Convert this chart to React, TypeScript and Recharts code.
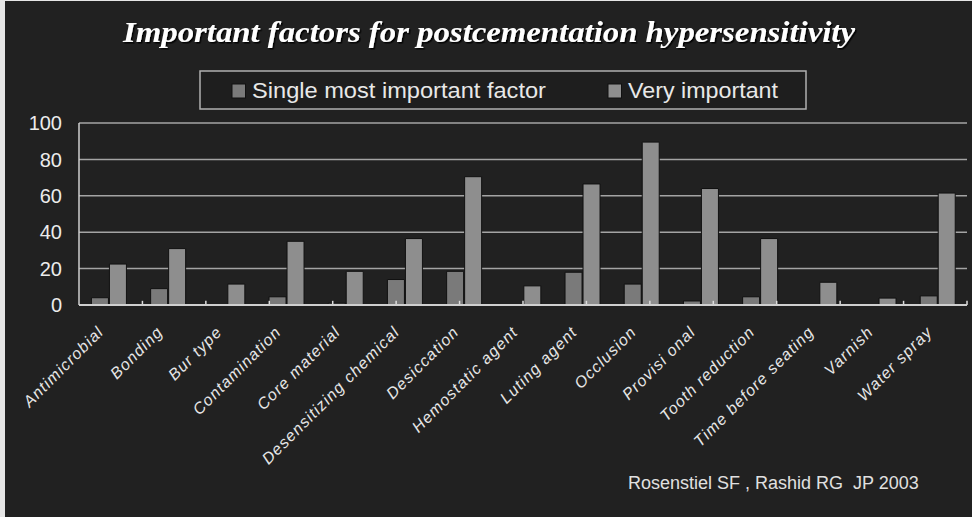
import React from 'react';
import { BarChart, Bar, XAxis, YAxis, CartesianGrid, ReferenceLine } from 'recharts';

const categories = [
  'Antimicrobial',
  'Bonding',
  'Bur type',
  'Contamination',
  'Core material',
  'Desensitizing chemical',
  'Desiccation',
  'Hemostatic agent',
  'Luting agent',
  'Occlusion',
  'Provisi onal',
  'Tooth reduction',
  'Time before seating',
  'Varnish',
  'Water spray',
];

const singleMost = [4, 9, 0, 4.5, 1, 14, 18.5, 0, 18, 11.5, 2.2, 4.5, 0, 0, 5];
const veryImportant = [22.5, 31, 11.5, 35, 18.5, 36.5, 70.5, 10.5, 66.5, 89.5, 64, 36.5, 12.5, 3.8, 61.5];

const yTicks = [0, 20, 40, 60, 80, 100];
const boundaryTicks = [1, 2, 3, 4, 5, 6, 7, 8, 9, 10, 11, 12, 13, 14];

const titleText = 'Important factors for postcementation hypersensitivity';
const legendLabels = ['Single most important factor', 'Very important'];
const footnote = 'Rosenstiel SF , Rashid RG  JP 2003';

const data = categories.map((name, i) => ({
  name,
  single: singleMost[i],
  very: veryImportant[i],
}));

const DARK = '#7a7a7a';
const LIGHT = '#8e8e8e';

const XTick = (props: any) => {
  const { x, y, payload } = props;
  return (
    <g transform={`translate(${x - 4},${y + 28})`}>
      <text
        textAnchor="end"
        transform="rotate(-45)"
        fill="#e6e6e6"
        fontSize={16}
        fontStyle="italic"
        fontFamily="'Liberation Sans', Arial, sans-serif"
        letterSpacing={1.1}
      >
        {payload.value}
      </text>
    </g>
  );
};

export default function App() {
  return (
    <div
      style={{
        position: 'absolute',
        left: 0,
        top: 0,
        width: 972,
        height: 517,
        background: '#212121',
        overflow: 'hidden',
      }}
    >
      <div style={{ position: 'absolute', left: 0, top: 0, width: 5, height: 517, background: '#e6e6e6' }} />
      <div style={{ position: 'absolute', left: 0, top: 0, width: 972, height: 1, background: '#e6e6e6' }} />
      <div style={{ position: 'absolute', left: 0, top: 0 }}>
        <BarChart
          width={972}
          height={517}
          data={data}
          margin={{ top: 123, right: 5, bottom: 0, left: 19 }}
          barCategoryGap="21%"
          barGap={1}
        >
          <CartesianGrid vertical={false} stroke="#a4a4a4" strokeWidth={1.5} />
          <XAxis
            dataKey="name"
            height={212}
            interval={0}
            tickLine={false}
            tickSize={0}
            tickMargin={0}
            axisLine={{ stroke: '#cfcfcf', strokeWidth: 2 }}
            tick={<XTick />}
          />
          <XAxis xAxisId="t" type="number" domain={[0, 15]} hide allowDataOverflow />
          <YAxis
            width={60}
            domain={[0, 100]}
            ticks={yTicks}
            tickLine={false}
            tickSize={0}
            tickMargin={17}
            axisLine={{ stroke: '#cfcfcf', strokeWidth: 1.5 }}
            tick={{ fill: '#ececec', fontSize: 20, fontFamily: "'Liberation Sans', Arial, sans-serif" }}
          />
          <YAxis
            yAxisId="r"
            orientation="right"
            width={0}
            domain={[0, 100]}
            tick={false}
            tickLine={false}
            axisLine={{ stroke: '#a4a4a4', strokeWidth: 1.5 }}
          />
          <Bar dataKey="single" name={legendLabels[0]} fill={DARK} stroke="#111111" strokeWidth={1} isAnimationActive={false} />
          <Bar dataKey="very" name={legendLabels[1]} fill={LIGHT} stroke="#111111" strokeWidth={1} isAnimationActive={false} />
          {boundaryTicks.map((b) => (
            <ReferenceLine
              key={b}
              xAxisId="t"
              segment={[
                { x: b, y: 0 },
                { x: b, y: 2.3 },
              ]}
              stroke="#dddddd"
              strokeWidth={1.5}
              ifOverflow="visible"
            />
          ))}
        </BarChart>
      </div>
      <svg
        width={972}
        height={517}
        style={{ position: 'absolute', left: 0, top: 0, pointerEvents: 'none' }}
      >
        <defs>
          <filter id="ts" x="-5%" y="-20%" width="110%" height="140%">
            <feDropShadow dx={1.5} dy={1.5} stdDeviation={0.6} floodColor="#000000" floodOpacity={0.9} />
          </filter>
        </defs>
        <text
          x={123}
          y={42}
          fill="#ffffff"
          fontSize={30}
          fontWeight="bold"
          fontStyle="italic"
          fontFamily="'Liberation Serif', 'Times New Roman', serif"
          textLength={732}
          lengthAdjust="spacingAndGlyphs"
          filter="url(#ts)"
        >
          {titleText}
        </text>
        <rect x={200} y={71} width={606} height={38} fill="#1e1e1e" stroke="#b0b0b0" strokeWidth={1.5} />
        <rect x={232} y={84} width={13.5} height={14} fill={DARK} stroke="#111" strokeWidth={1} />
        <text
          x={252}
          y={98}
          fill="#e8e8e8"
          fontSize={22}
          fontFamily="'Liberation Sans', Arial, sans-serif"
          textLength={294}
          lengthAdjust="spacingAndGlyphs"
        >
          {legendLabels[0]}
        </text>
        <rect x={608} y={84} width={13.5} height={14} fill={LIGHT} stroke="#111" strokeWidth={1} />
        <text
          x={628}
          y={98}
          fill="#e8e8e8"
          fontSize={22}
          fontFamily="'Liberation Sans', Arial, sans-serif"
          textLength={150}
          lengthAdjust="spacingAndGlyphs"
        >
          {legendLabels[1]}
        </text>
        <text
          x={628}
          y={489}
          fill="#e0e0e0"
          fontSize={18}
          fontFamily="'Liberation Sans', Arial, sans-serif"
          xmlSpace="preserve"
        >
          {footnote}
        </text>
      </svg>
    </div>
  );
}
